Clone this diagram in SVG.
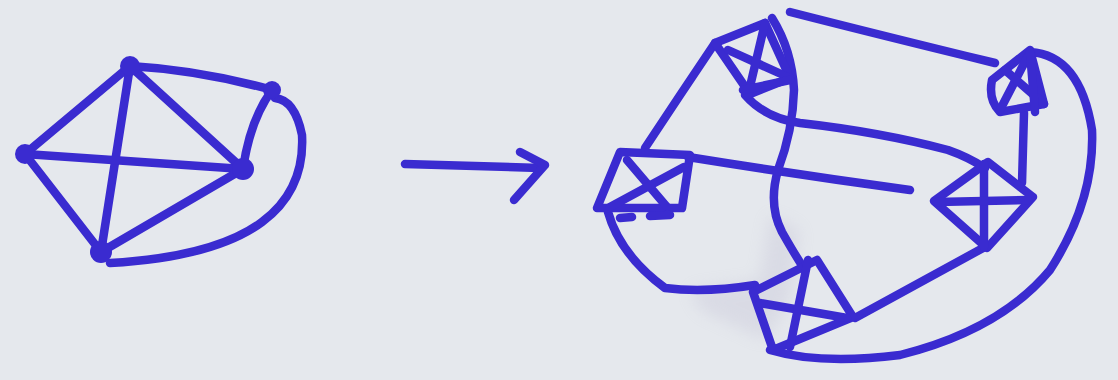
<svg xmlns="http://www.w3.org/2000/svg" width="1118" height="380" viewBox="0 0 1118 380">
<defs>
<style>
.ink{fill:none;stroke:#3a2bd0;stroke-width:8.5;stroke-linecap:round;stroke-linejoin:round}
.dot{fill:#3a2bd0}
</style>
<filter id="blur" x="-50%" y="-50%" width="200%" height="200%"><feGaussianBlur stdDeviation="8"/></filter>
</defs>
<rect width="1118" height="380" fill="#e5e8ed"/>
<g id="smudge" opacity="0.22" filter="url(#blur)">
<path d="M770 215 L800 230 L790 300 L765 340 L700 310 L690 290 L760 280 Z" fill="#b0acc8"/>
</g>
<g id="left-graph">
<g id="edges-left" class="ink">
<path d="M130 66 Q200 70 272 90"/>
<line x1="130" y1="66" x2="25" y2="154"/>
<line x1="130" y1="66" x2="243" y2="169"/>
<line x1="130" y1="66" x2="101" y2="252"/>
<line x1="25" y1="154" x2="243" y2="169"/>
<line x1="25" y1="154" x2="101" y2="252"/>
<line x1="101" y1="252" x2="243" y2="169"/>
<path d="M272 90 Q250 120 243 169"/>
<path d="M275 98 Q295 100 302 135 Q305 190 262 222 Q215 257 110 263"/>
</g>
<g id="n-a"><circle class="dot" cx="130" cy="66" r="10"/></g>
<g id="n-b"><circle class="dot" cx="272" cy="90" r="9"/></g>
<g id="n-c"><circle class="dot" cx="25" cy="154" r="10"/></g>
<g id="n-d"><circle class="dot" cx="243" cy="169" r="11"/></g>
<g id="n-e"><circle class="dot" cx="101" cy="252" r="11"/></g>
</g>
<g id="arrow" class="ink">
<path d="M405 164 L540 168"/>
<path d="M520 152 L545 165 L514 200"/>
</g>
<g id="connectors-right" class="ink">
<path d="M772 18 Q792 50 794 90 Q793 130 778 170 Q768 205 782 232 Q795 255 805 270"/>
<path d="M790 12 Q880 35 995 63"/>
<path d="M745 95 Q765 118 800 123 Q880 132 948 150 Q968 157 985 168"/>
<path d="M688 157 Q800 175 910 190"/>
<path d="M715 43 Q680 95 645 148"/>
<path d="M608 212 Q620 255 665 288 Q705 293 755 285"/>
<path d="M983 248 L855 318"/>
<path d="M1024 113 L1022 183"/>
<path d="M1030 52 Q1080 55 1092 130 Q1095 200 1050 270 Q1000 330 900 355 Q820 365 770 350"/>
</g>
<g id="k1" class="ink">
<path d="M715 43 L765 23 L790 78 L750 94 Z"/>
<line x1="728" y1="50" x2="790" y2="78"/>
<line x1="765" y1="23" x2="748" y2="95"/>
<line x1="743" y1="90" x2="790" y2="80"/>
</g>
<g id="k2" class="ink">
<path d="M992 80 L1030 50 L1044 104 L1000 112 Q988 100 992 80 Z"/>
<line x1="1000" y1="110" x2="1030" y2="52"/>
<line x1="1005" y1="70" x2="1044" y2="104"/>
<line x1="1030" y1="52" x2="1035" y2="112"/>
</g>
<g id="k3" class="ink">
<path d="M620 152 L690 155 L682 208 L597 208 Z"/>
<line x1="627" y1="160" x2="667" y2="207"/>
<line x1="684" y1="167" x2="610" y2="207"/>
<line x1="620" y1="218" x2="632" y2="217"/>
<line x1="650" y1="216" x2="670" y2="215"/>
</g>
<g id="k4" class="ink">
<path d="M988 162 L934 201 L987 248 L1033 197 Z"/>
<line x1="984" y1="164" x2="984" y2="247"/>
<line x1="937" y1="202" x2="1028" y2="200"/>
</g>
<g id="k5" class="ink">
<path d="M817 260 L753 292 L773 350 L853 317 Z"/>
<line x1="760" y1="303" x2="847" y2="318"/>
<line x1="808" y1="260" x2="790" y2="347"/>
</g>
</svg>
